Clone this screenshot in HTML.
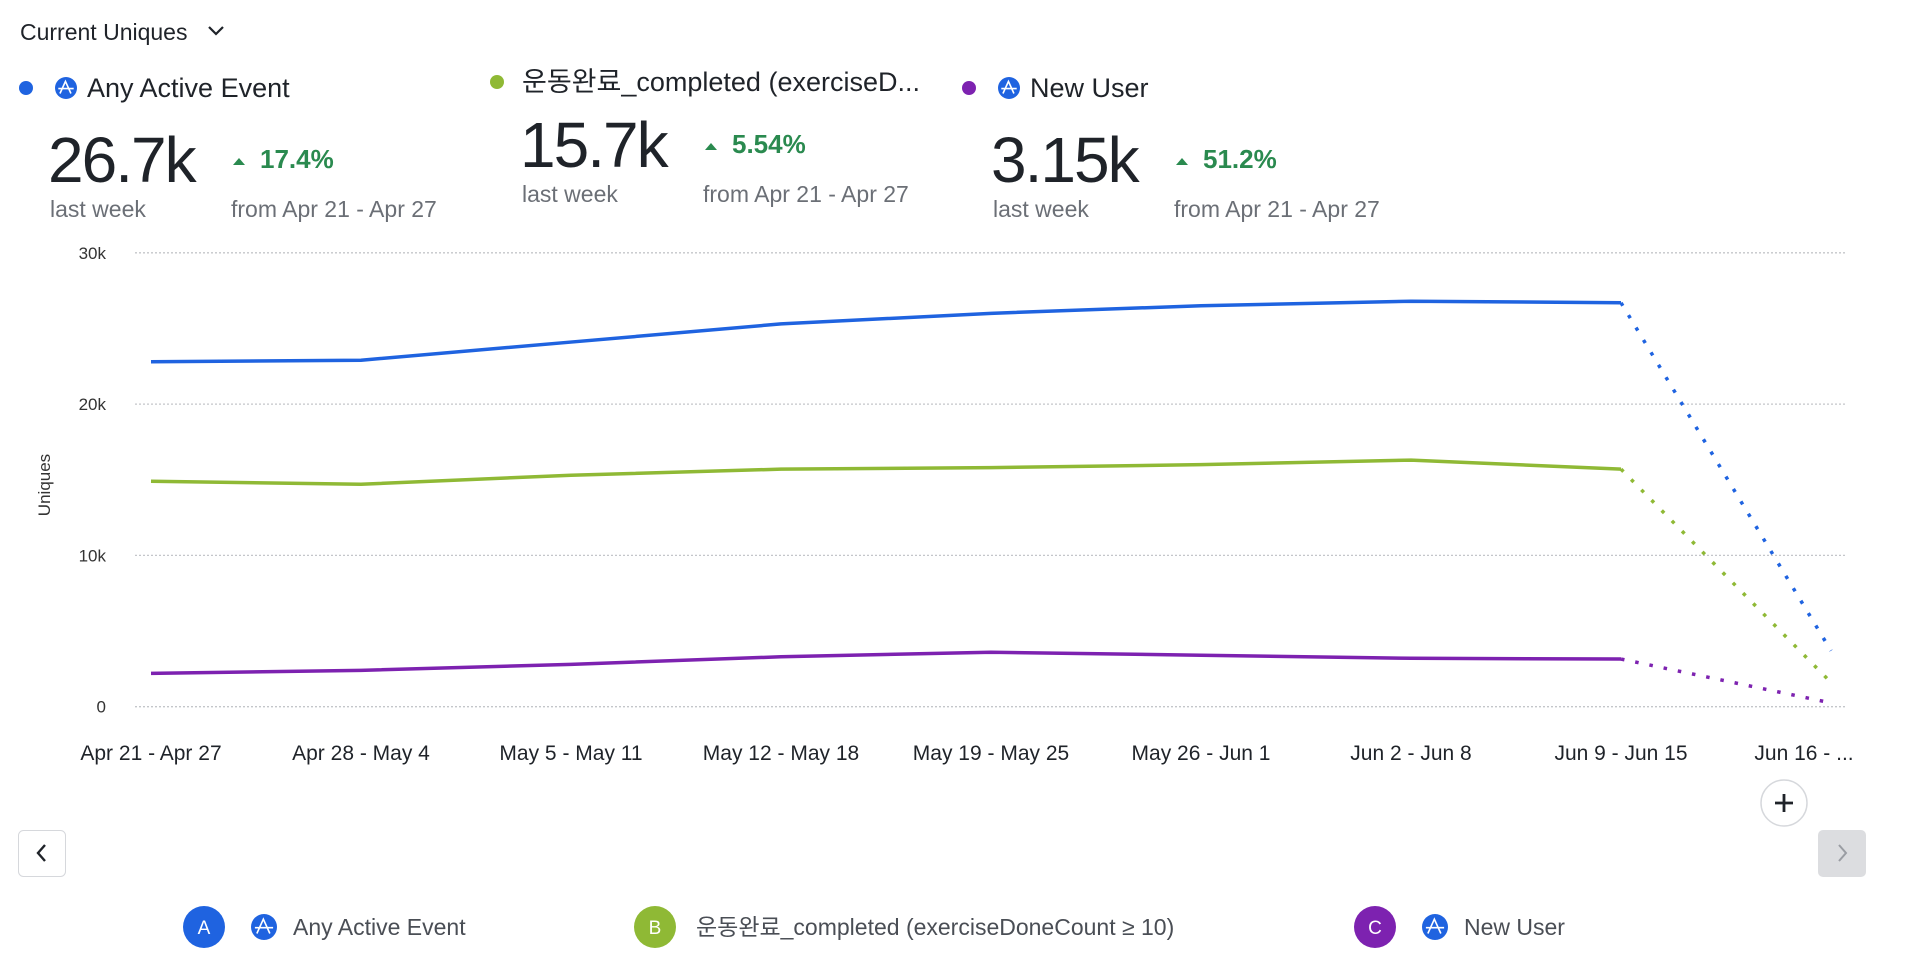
<!DOCTYPE html>
<html><head><meta charset="utf-8">
<style>
html,body{margin:0;padding:0;background:#fff;}
svg{display:block;font-family:"Liberation Sans","Noto Sans CJK KR",sans-serif;}
</style></head>
<body>
<svg id="chart" width="1908" height="972" viewBox="0 0 1908 972">
  <g>
    <text x="20" y="40" font-size="23" fill="#1f2329">Current Uniques</text>
    <path d="M209 27 l7 7 l7 -7" fill="none" stroke="#1f2329" stroke-width="2.2"/>
  </g>
  <g id="summary"></g>
  <g id="grid"></g>
  <text transform="translate(50,485) rotate(-90)" text-anchor="middle" font-size="17" fill="#333">Uniques</text>
  <g id="series"></g>
  <g id="xlabels"></g>
  <g>
    <circle cx="1784" cy="803" r="23" fill="#fff" stroke="#d6d8dc" stroke-width="1.5"/>
    <path d="M1784 794 v18 M1775 803 h18" stroke="#1f2329" stroke-width="2.8"/>
  </g>
  <g>
    <rect x="18.5" y="830.5" width="47" height="46" rx="5" fill="#fff" stroke="#d6d8dc"/>
    <path d="M45 845 l-7 8 l7 8" fill="none" stroke="#1f2329" stroke-width="2.4"/>
  </g>
  <g>
    <rect x="1818" y="830" width="48" height="47" rx="5" fill="#dcdde0"/>
    <path d="M1839 845 l7 8 l-7 8" fill="none" stroke="#9a9da3" stroke-width="2"/>
  </g>
  <g id="legend"></g>
</svg>
<script>
const categories = ["Apr 21 - Apr 27","Apr 28 - May 4","May 5 - May 11","May 12 - May 18","May 19 - May 25","May 26 - Jun 1","Jun 2 - Jun 8","Jun 9 - Jun 15","Jun 16 - ..."];
const anyActive = [22.8,22.9,24.1,25.3,26.0,26.5,26.8,26.7,3.7];
const exerciseDone = [14.9,14.7,15.3,15.7,15.8,16.0,16.3,15.7,1.6];
const newUser = [2.2,2.4,2.8,3.3,3.6,3.4,3.2,3.15,0.25];
const yTicks = [0,10,20,30];
const yTickLabels = ["0","10k","20k","30k"];
const seriesNames = ["Any Active Event","운동완료_completed (exerciseD...","New User"];
const legendNames = ["Any Active Event","운동완료_completed (exerciseDoneCount ≥ 10)","New User"];
const bigValues = ["26.7k","15.7k","3.15k"];
const changes = ["17.4%","5.54%","51.2%"];
const colors = ["#1f63e0","#8fb935","#7d22b0"];
const NS="http://www.w3.org/2000/svg";
function el(tag,attrs,parent,text){const e=document.createElementNS(NS,tag);for(const k in attrs)e.setAttribute(k,attrs[k]);if(text!==undefined)e.textContent=text;parent.appendChild(e);return e;}
const x0=151, xStep=210, yBase=706.7, yPerK=15.13;
function xs(i){return x0+i*xStep;}
function ys(v){return yBase-v*yPerK;}
function ampIcon(cx,cy,r,parent){
  el('circle',{cx:cx,cy:cy,r:r,fill:'#1f63e0'},parent);
  el('path',{d:`M${cx-r*0.55} ${cy+r*0.5} L${cx-r*0.05} ${cy-r*0.6} L${cx+r*0.45} ${cy+r*0.5} M${cx-r*0.7} ${cy+r*0.05} h${r*1.4}`,fill:'none',stroke:'#fff','stroke-width':1.6},parent);
}
const grid=document.getElementById('grid');
yTicks.forEach((t,i)=>{
  const l=el('line',{x1:135,x2:1847,y1:ys(t),y2:ys(t),stroke:'#c4c6ca','stroke-width':1.3,'stroke-dasharray':'2 2'},grid);
  
  
  const tx=el('text',{x:106,y:ys(t)+6,'text-anchor':'end','font-size':17,fill:'#333'},grid,yTickLabels[i]);
  
  
});
const xl=document.getElementById('xlabels');
categories.forEach((c,i)=>{
  const t=el('text',{x:i===8?xs(i)-27:xs(i),y:760,'text-anchor':'middle','font-size':21,fill:'#1f2329'},xl,c);
  
  
});
const sg=document.getElementById('series');
[anyActive,exerciseDone,newUser].forEach((arr,s)=>{
  const n=arr.length;
  const pts=arr.slice(0,n-1).map((v,i)=>xs(i)+','+ys(v)).join(' ');
  const pl=el('polyline',{points:pts,fill:'none',stroke:colors[s],'stroke-width':3.5,'stroke-linejoin':'round'},sg);
  
  
  const d=el('line',{x1:xs(n-2),y1:ys(arr[n-2]),x2:xs(n-1),y2:ys(arr[n-1]),stroke:colors[s],'stroke-width':3.5,'stroke-dasharray':'3.5 11'},sg);
  
  
});
const sum=document.getElementById('summary');
const sx=[50,522,993], dotX=[26,497,969], rowY=[88,82,88], numY=[182,167,182];
for(let s=0;s<3;s++){
  const g=el('g',{},sum);
  
  
  el('circle',{cx:dotX[s],cy:rowY[s],r:7,fill:colors[s]},g);
  let tx=dotX[s]+25;
  if(s!==1){ampIcon(dotX[s]+40,rowY[s],11,g);tx=dotX[s]+61;}
  const nm=el('text',{x:tx,y:rowY[s]+9,'font-size':27,fill:'#1f2329'},g,seriesNames[s]);
  
  
  el('text',{x:sx[s]-2,y:numY[s],'font-size':64,fill:'#1f2329','letter-spacing':'-2'},g,bigValues[s]);
  el('path',{d:`M${sx[s]+183} ${numY[s]-17} l6 -7 l6 7 z`,fill:'#2a8a4f'},g);
  el('text',{x:sx[s]+210,y:numY[s]-14,'font-size':26,'font-weight':'bold',fill:'#2a8a4f'},g,changes[s]);
  el('text',{x:sx[s],y:numY[s]+35,'font-size':23,fill:'#6b6f76'},g,'last week');
  el('text',{x:sx[s]+181,y:numY[s]+35,'font-size':23,fill:'#6b6f76'},g,'from Apr 21 - Apr 27');
}
const lg=document.getElementById('legend');
const lcx=[204,655,1375], letters=["A","B","C"];
for(let s=0;s<3;s++){
  const g=el('g',{},lg);
  
  
  el('circle',{cx:lcx[s],cy:927,r:21,fill:colors[s]},g);
  el('text',{x:lcx[s],y:934,'text-anchor':'middle','font-size':19,fill:'#fff'},g,letters[s]);
  let tx=lcx[s]+41;
  if(s!==1){ampIcon(lcx[s]+60,927,13,g);tx=lcx[s]+89;}
  el('text',{x:tx,y:935,'font-size':23,fill:'#4a4e55'},g,legendNames[s]);
}
</script>
</body></html>
